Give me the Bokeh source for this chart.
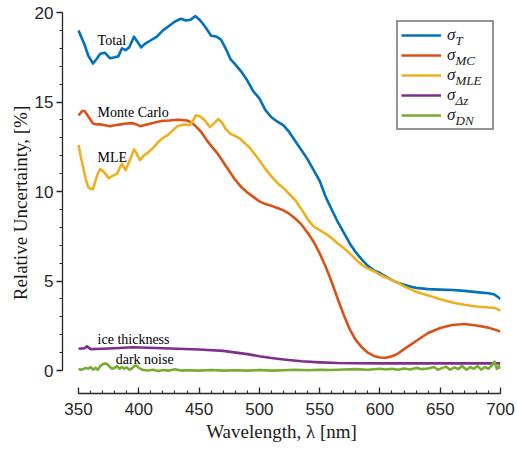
from bokeh.plotting import figure
from bokeh.models import Range1d, Legend, LegendItem, Label, FixedTicker
from bokeh.embed import file_html
from bokeh.resources import INLINE

# ---------------- data ----------------
wl_total = [350, 355, 358, 362, 365, 368, 372, 376, 380, 383, 386, 389, 392, 396, 399, 402, 405, 410,
            415, 420, 425, 430, 435, 439, 443, 447, 451, 455, 460, 464, 468, 472, 476, 480, 485, 490,
            495, 500, 505, 510, 515, 520, 525, 530, 535, 540, 545, 550, 555, 560, 565, 570, 575, 580,
            585, 590, 595, 600, 605, 610, 615, 620, 625, 630, 640, 650, 660, 670, 680, 690, 695, 700]
total = [19.0, 18.2, 17.6, 17.15, 17.4, 17.7, 17.75, 17.45, 17.5, 17.55, 18.0, 17.9, 18.05, 18.65, 18.35,
         18.05, 18.25, 18.45, 18.65, 19.0, 19.25, 19.5, 19.65, 19.55, 19.6, 19.8, 19.55, 19.2, 18.7, 18.66,
         18.5, 18.0, 17.4, 17.1, 16.7, 16.2, 15.6, 15.2, 14.55, 14.15, 13.9, 13.7, 13.3, 12.8, 12.3, 11.8,
         11.2, 10.6, 9.7, 9.0, 8.3, 7.7, 7.1, 6.6, 6.2, 5.85, 5.6, 5.45, 5.25, 5.05, 4.9, 4.8, 4.7, 4.62,
         4.55, 4.52, 4.5, 4.45, 4.38, 4.32, 4.25, 4.0]

wl_mc = [350, 353, 355, 358, 362, 365, 368, 372, 376, 380, 385, 390, 395, 398, 401, 405, 410, 415, 420,
         425, 430, 435, 440, 444, 448, 452, 456, 460, 465, 470, 475, 480, 485, 490, 495, 500, 505, 510,
         515, 520, 525, 530, 535, 540, 545, 550, 555, 560, 565, 570, 575, 580, 585, 590, 595, 600, 605,
         610, 615, 620, 625, 630, 640, 650, 660, 670, 680, 690, 700]
mc = [14.25, 14.5, 14.5, 14.2, 13.8, 13.75, 13.75, 13.7, 13.65, 13.7, 13.75, 13.8, 13.82, 13.75, 13.65,
      13.72, 13.8, 13.88, 13.95, 13.97, 14.0, 14.0, 13.97, 13.85, 13.6, 13.3, 12.9, 12.55, 12.15, 11.65,
      11.15, 10.65, 10.25, 9.95, 9.7, 9.45, 9.3, 9.2, 9.08, 8.95, 8.75, 8.48, 8.15, 7.7, 7.2, 6.55, 5.8,
      4.95, 4.0, 3.1, 2.3, 1.7, 1.3, 1.0, 0.82, 0.73, 0.72, 0.8, 0.95, 1.2, 1.42, 1.65, 2.1, 2.38, 2.55,
      2.6, 2.52, 2.4, 2.18]

wl_mle = [350, 352, 354, 356, 358, 360, 362, 364, 366, 368, 371, 375, 379, 382, 384, 386, 389, 391, 394,
          396, 398, 401, 404, 408, 412, 416, 420, 424, 428, 432, 437, 442, 445, 447, 451, 455, 459, 463,
          466, 469, 472, 476, 480, 484, 488, 492, 496, 500, 504, 508, 512, 516, 520, 525, 530, 535, 540,
          545, 550, 556, 560, 565, 570, 575, 580, 585, 590, 595, 600, 605, 610, 615, 620, 625, 630, 640,
          650, 660, 670, 680, 690, 695, 700]
mle = [12.6, 11.9, 11.3, 10.7, 10.25, 10.15, 10.15, 10.6, 11.0, 11.25, 11.1, 10.75, 10.9, 11.0, 11.3,
       11.55, 11.2, 11.5, 12.0, 12.35, 12.15, 11.75, 12.0, 12.2, 12.45, 12.75, 13.0, 13.15, 13.4, 13.65,
       13.75, 13.7, 13.95, 14.25, 14.2, 13.95, 13.6, 13.85, 14.05, 13.85, 13.5, 13.22, 13.1, 12.95, 12.7,
       12.45, 12.1, 11.75, 11.35, 11.0, 10.7, 10.4, 10.2, 9.85, 9.5, 9.0, 8.45, 8.05, 7.85, 7.6, 7.4, 7.1,
       6.85, 6.55, 6.2, 5.9, 5.7, 5.55, 5.35, 5.2, 5.05, 4.9, 4.7, 4.55, 4.4, 4.2, 3.98, 3.8, 3.68, 3.58,
       3.52, 3.5, 3.35]

wl_dz = [350, 355, 357, 360, 370, 380, 395, 420, 450, 470, 490, 500, 510, 520, 535, 550, 565, 580, 600,
         650, 700]
dz = [1.22, 1.25, 1.35, 1.2, 1.22, 1.25, 1.3, 1.25, 1.18, 1.1, 0.92, 0.8, 0.7, 0.62, 0.52, 0.46, 0.42,
      0.41, 0.4, 0.4, 0.4]

wl_dn = [350, 353, 356, 358, 360, 362, 364, 366, 368, 370, 372, 374, 376, 378, 380, 382, 384, 386, 388,
         390, 392, 394, 396, 398, 400, 403, 407, 412, 416, 420, 425, 430, 435, 440, 450, 460, 470, 480,
         490, 500, 510, 520, 530, 540, 550, 560, 570, 580, 590, 600, 605, 610, 615, 620, 625, 630, 635,
         640, 645, 648, 652, 655, 658, 662, 665, 668, 672, 675, 678, 681, 684, 687, 690, 693, 695, 697,
         699, 700]
dn = [0.08, 0.05, 0.15, 0.1, 0.2, 0.05, 0.15, 0.05, 0.25, 0.35, 0.4, 0.35, 0.2, 0.1, 0.15, 0.25, 0.1,
      0.2, 0.1, 0.18, 0.05, 0.1, 0.25, 0.28, 0.15, 0.05, 0.0, 0.05, -0.02, 0.03, 0.0, 0.08, 0.0, 0.02,
      0.0, 0.03, 0.0, 0.02, 0.0, 0.03, 0.0, 0.02, 0.05, 0.02, 0.05, 0.03, 0.06, 0.08, 0.05, 0.1, 0.06,
      0.1, 0.05, 0.12, 0.06, 0.15, 0.08, 0.12, 0.2, 0.05, 0.15, 0.22, 0.05, 0.18, 0.08, 0.25, 0.05, 0.2,
      0.1, 0.25, 0.05, 0.2, 0.1, 0.3, 0.5, 0.1, 0.25, 0.1]

series_names = ["T", "MC", "MLE", "\u0394z", "DN"]
series_colors = ["#0072BD", "#D95319", "#EDB120", "#7E2F8E", "#77AC30"]

annotations = [("Total", 365.8, 18.45), ("Monte Carlo", 365.8, 14.4), ("MLE", 365.8, 11.9),
               ("ice thickness", 365.8, 1.73), ("dark noise", 380.8, 0.6)]

x_ticks = [350, 400, 450, 500, 550, 600, 650, 700]
y_ticks = [0, 5, 10, 15, 20]

# ---------------- figure ----------------
AX = "#262626"
X0, X1, Y0, Y1 = 336.7, 700, -1.28, 20
FL, FR, FT, FB = 62, 500, 12, 393      # frame edges in canvas pixels
p = figure(width=515, height=449, output_backend="svg", toolbar_location=None,
           x_range=Range1d(X0, X1), y_range=Range1d(Y0, Y1),
           min_border_left=FL, min_border_right=515 - FR, min_border_top=FT, min_border_bottom=449 - FB)
p.outline_line_color = None
p.grid.visible = False
p.background_fill_color = "white"
p.border_fill_color = "white"

xa = p.xaxis[0]
ya = p.yaxis[0]
xa.bounds = (350, 700)
ya.bounds = (0, 20)
xa.ticker = FixedTicker(ticks=x_ticks, minor_ticks=list(range(350, 701, 10)))
ya.ticker = FixedTicker(ticks=y_ticks, minor_ticks=list(range(0, 21)))
for ax in (xa, ya):
    ax.axis_line_color = AX
    ax.axis_line_width = 1.3
    ax.major_tick_line_color = AX
    ax.minor_tick_line_color = AX
    ax.major_tick_line_width = 1.3
    ax.minor_tick_line_width = 1.1
    ax.major_label_text_font = "Liberation Sans"
    ax.major_label_text_font_size = "17px"
    ax.major_label_text_color = AX
    ax.axis_label_text_font = "Liberation Serif"
    ax.axis_label_text_font_size = "19px"
    ax.axis_label_text_font_style = "normal"
    ax.axis_label_text_color = "#1a1a1a"

xa.major_tick_in = 6
xa.major_tick_out = 0
xa.minor_tick_in = 3
xa.minor_tick_out = 0
xa.major_label_standoff = 9
xa.axis_label_standoff = 3
xa.axis_label = "Wavelength, \u03bb [nm]"

ya.major_tick_in = 0
ya.major_tick_out = 6
ya.minor_tick_in = 0
ya.minor_tick_out = 3
ya.major_label_standoff = 3
ya.axis_label_standoff = 1
ya.axis_label = "Relative Uncertainty, [%]"

xs = [wl_total, wl_mc, wl_mle, wl_dz, wl_dn]
ys = [total, mc, mle, dz, dn]
renderers = []
for x, y, c in zip(xs, ys, series_colors):
    r = p.line(x, y, line_color=c, line_width=2.6, line_join="round")
    renderers.append(r)

items = [LegendItem(label="\u03c3", renderers=[r]) for r in renderers]
PAD, IH = 3, 20
LX, LY = 334, 263
legend = Legend(items=items, location=(LX, LY), padding=PAD, spacing=0,
                glyph_width=40, glyph_height=IH, label_height=IH, label_width=42,
                label_standoff=6, margin=0,
                label_text_font="Liberation Serif", label_text_font_style="italic",
                label_text_font_size="17px", label_text_color="#1a1a1a",
                border_line_color="#2a2a2a", border_line_width=2,
                background_fill_color=None, background_fill_alpha=0.0)
p.add_layout(legend, "center")

# subscripts of legend labels, placed in data units converted from the legend geometry
kx = (FR - FL) / (X1 - X0)
ky = (FB - FT) / (Y1 - Y0)
box_top = FB - LY - (2 * PAD + 5 * IH)
sub_px = FL + LX + PAD + 40 + 6 + 10
for i, name in enumerate(series_names):
    cy_px = box_top + PAD + IH / 2 + i * IH + 3
    p.add_layout(Label(x=X0 + (sub_px - FL) / kx, y=Y0 + (FB - cy_px) / ky,
                       text=name, text_font="Liberation Serif", text_font_style="italic",
                       text_font_size="13px", text_baseline="middle", text_align="left",
                       text_color="#1a1a1a"))

for txt, x, y in annotations:
    p.add_layout(Label(x=x, y=y, text=txt, text_font="Liberation Serif", text_font_size="14px",
                       text_baseline="middle", text_align="left", text_color="black"))

open("out.html", "w").write(file_html(p, INLINE))
